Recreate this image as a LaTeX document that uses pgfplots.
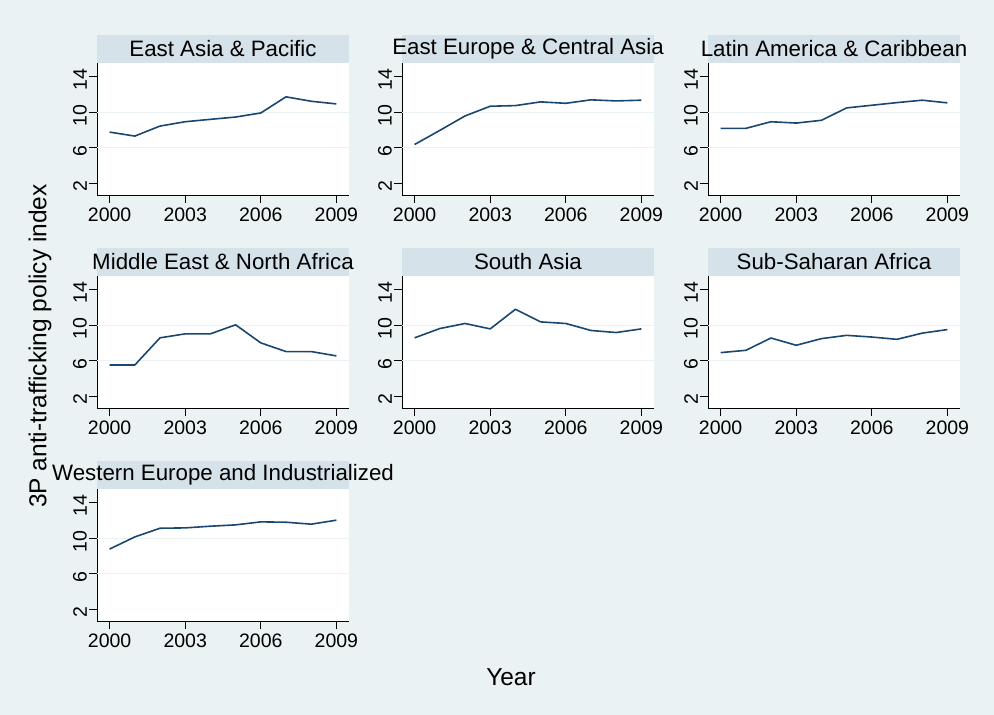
\documentclass[border=0pt]{standalone}
\usepackage{pgfplots}
\usepackage{pgfplotstable}
\pgfplotsset{compat=1.18}
\usepackage{fontspec}
\setmainfont{Liberation Sans}
\definecolor{bg}{RGB}{234,242,243}
\definecolor{strip}{RGB}{214,226,233}
\definecolor{statanavy}{RGB}{26,71,111}

\pgfplotstableread{
year EAP  EECA  LAC   MENA  SA    SSA   WEI
2000 7.75 6.35  8.17  5.50  8.57  6.90  8.77
2001 7.30 7.94  8.17  5.50  9.62  7.16  10.14
2002 8.43 9.57  8.92  8.57  10.19 8.55  11.12
2003 8.92 10.67 8.77  9.02  9.58  7.73  11.16
2004 9.19 10.74 9.08  9.02  11.79 8.48  11.35
2005 9.45 11.16 10.48 10.04 10.37 8.85  11.50
2006 9.91 11.00 10.78 8.00  10.19 8.66  11.84
2007 11.73 11.39 11.08 7.02 9.40  8.40  11.80
2008 11.23 11.27 11.35 7.02 9.17  9.10  11.58
2009 10.93 11.35 11.05 6.53 9.58  9.50  12.03
}\data

\newcommand\tickfont{\fontsize{19.5}{20}\selectfont}
\newcommand\titfont{\fontsize{22.3}{24}\selectfont}
\newcommand\labfont{\fontsize{24.5}{26}\selectfont}

\pgfplotsset{panel/.style={
  scale only axis, width=252pt, height=132pt,
  anchor=south west,
  xmin=1999.5, xmax=2009.5, ymin=0.65, ymax=15.55,
  axis x line*=bottom, axis y line*=left,
  axis line style={line width=0.9pt, black, -},
  xtick={2000,2003,2006,2009}, ytick={2,6,10,14},
  tick align=outside, major tick length=8pt,
  every tick/.style={line width=0.9pt, black},
  /pgf/number format/assume math mode=true,
  /pgf/number format/1000 sep={},
  xticklabel style={font=\tickfont, anchor=north, inner sep=2pt, yshift=-3pt},
  yticklabel style={font=\tickfont, rotate=90, anchor=south, inner sep=2pt, xshift=-3pt},
  extra y ticks={6,10}, extra y tick labels={},
  extra y tick style={ymajorgrids=true, major tick length=0pt},
  major grid style={bg, line width=1.2pt},
  axis background/.style={fill=white},
  cycle list={{statanavy, line width=1.6pt, line join=round}},
  every axis plot post/.append style={statanavy, line width=1.6pt, mark=none, line join=round},
}}

\begin{document}
\begin{tikzpicture}
\fill[bg] (0pt,0pt) rectangle (994pt,715pt);
\path[use as bounding box] (0pt,0pt) rectangle (994pt,715pt);

\begin{axis}[panel, at={(97pt,520pt)}, name=p1]
\addplot table[x=year,y=EAP]{\data};
\end{axis}
\begin{axis}[panel, at={(402pt,520pt)}, name=p2]
\addplot table[x=year,y=EECA]{\data};
\end{axis}
\begin{axis}[panel, at={(708pt,520pt)}, name=p3]
\addplot table[x=year,y=LAC]{\data};
\end{axis}
\begin{axis}[panel, at={(97pt,307pt)}, name=p4]
\addplot table[x=year,y=MENA]{\data};
\end{axis}
\begin{axis}[panel, at={(402pt,307pt)}, name=p5]
\addplot table[x=year,y=SA]{\data};
\end{axis}
\begin{axis}[panel, at={(708pt,307pt)}, name=p6]
\addplot table[x=year,y=SSA]{\data};
\end{axis}
\begin{axis}[panel, at={(97pt,94pt)}, name=p7]
\addplot table[x=year,y=WEI]{\data};
\end{axis}

\foreach \p/\t in {p1/East Asia \& Pacific, p2/East Europe \& Central Asia, p3/Latin America \& Caribbean, p4/Middle East \& North Africa, p5/South Asia, p6/Sub-Saharan Africa, p7/Western Europe and Industrialized}{
  \fill[strip] (\p.north west) rectangle ([yshift=28pt]\p.north east);
  \node[font=\titfont, inner sep=0pt] at ([yshift=14pt]\p.north) {\t};
}

\node[font=\labfont, rotate=90] at (40pt,369pt) {3P anti-trafficking policy index};
\node[font=\labfont] at (511pt,38pt) {Year};
\end{tikzpicture}
\end{document}
